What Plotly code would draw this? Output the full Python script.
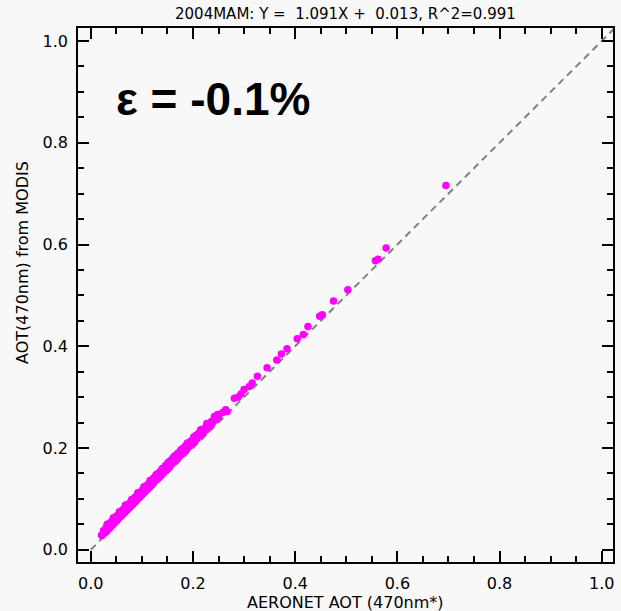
import plotly.graph_objects as go

# AERONET vs MODIS AOT (470 nm) matchups, spring 2004
aeronet_aot = [
    0.021, 0.022, 0.027, 0.031, 0.035, 0.039, 0.043, 0.047, 0.051, 0.055, 0.059,
    0.063, 0.067, 0.071, 0.075, 0.079, 0.083, 0.087, 0.091, 0.095, 0.099, 0.103,
    0.107, 0.111, 0.115, 0.119, 0.123, 0.127, 0.131, 0.135, 0.139, 0.143, 0.147,
    0.151, 0.155, 0.159, 0.163, 0.168, 0.173, 0.178, 0.183, 0.188, 0.193, 0.198,
    0.203, 0.208, 0.214, 0.220, 0.226, 0.232, 0.238, 0.244, 0.250,
    0.025, 0.030, 0.034, 0.038, 0.042, 0.046, 0.050, 0.054, 0.058, 0.062, 0.066,
    0.070, 0.074, 0.078, 0.082, 0.086, 0.090, 0.094, 0.098, 0.102, 0.106, 0.110,
    0.114, 0.118, 0.122, 0.126, 0.130, 0.134, 0.138, 0.142, 0.146, 0.150, 0.154,
    0.158, 0.162, 0.166, 0.171, 0.176, 0.181, 0.186, 0.191, 0.196, 0.201, 0.206,
    0.212, 0.218, 0.224, 0.230, 0.236, 0.242, 0.248,
    0.028, 0.033, 0.037, 0.041, 0.045, 0.049, 0.053, 0.057, 0.061, 0.065, 0.069,
    0.073, 0.077, 0.081, 0.085, 0.089, 0.093, 0.097, 0.101, 0.105, 0.109, 0.113,
    0.117, 0.121, 0.125, 0.129, 0.133, 0.137, 0.141, 0.145, 0.149, 0.153, 0.157,
    0.161, 0.165, 0.170, 0.175, 0.180, 0.185, 0.190, 0.195, 0.200, 0.205, 0.210,
    0.216, 0.222, 0.228, 0.234, 0.240,
    0.032, 0.044, 0.056, 0.068, 0.080, 0.092, 0.104, 0.116, 0.128, 0.140, 0.152,
    0.164, 0.177, 0.189, 0.202, 0.215, 0.227,
    0.258, 0.264, 0.267, 0.281, 0.288, 0.294, 0.300, 0.310, 0.316, 0.326, 0.345,
    0.364, 0.373, 0.384, 0.404, 0.416, 0.425, 0.448, 0.453, 0.475, 0.503, 0.557,
    0.562, 0.578, 0.695,
]
modis_aot = [
    0.029, 0.028, 0.033, 0.036, 0.041, 0.045, 0.049, 0.053, 0.057, 0.062, 0.066,
    0.070, 0.074, 0.078, 0.082, 0.086, 0.090, 0.094, 0.099, 0.103, 0.107, 0.111,
    0.115, 0.119, 0.123, 0.128, 0.132, 0.136, 0.140, 0.144, 0.148, 0.152, 0.156,
    0.160, 0.164, 0.169, 0.173, 0.178, 0.183, 0.188, 0.193, 0.198, 0.203, 0.208,
    0.213, 0.218, 0.224, 0.230, 0.236, 0.243, 0.249, 0.255, 0.261,
    0.038, 0.044, 0.048, 0.053, 0.057, 0.061, 0.066, 0.069, 0.073, 0.078, 0.082,
    0.086, 0.090, 0.094, 0.099, 0.103, 0.106, 0.110, 0.114, 0.119, 0.123, 0.127,
    0.131, 0.135, 0.140, 0.144, 0.148, 0.152, 0.156, 0.160, 0.165, 0.169, 0.173,
    0.177, 0.182, 0.186, 0.190, 0.195, 0.200, 0.205, 0.209, 0.214, 0.219, 0.225,
    0.230, 0.236, 0.240, 0.247, 0.252, 0.262, 0.266,
    0.038, 0.043, 0.047, 0.051, 0.055, 0.059, 0.063, 0.068, 0.072, 0.076, 0.080,
    0.084, 0.088, 0.092, 0.096, 0.100, 0.104, 0.108, 0.112, 0.117, 0.121, 0.125,
    0.129, 0.133, 0.137, 0.141, 0.146, 0.150, 0.154, 0.158, 0.162, 0.167, 0.171,
    0.175, 0.179, 0.184, 0.189, 0.194, 0.198, 0.204, 0.209, 0.214, 0.219, 0.224,
    0.230, 0.236, 0.242, 0.248, 0.254,
    0.050, 0.063, 0.075, 0.088, 0.099, 0.112, 0.124, 0.136, 0.148, 0.160, 0.172,
    0.184, 0.197, 0.210, 0.222, 0.236, 0.248,
    0.270, 0.275, 0.272, 0.298, 0.300, 0.306, 0.315, 0.321, 0.328, 0.341, 0.358,
    0.373, 0.385, 0.395, 0.415, 0.423, 0.439, 0.459, 0.462, 0.489, 0.511, 0.568,
    0.571, 0.593, 0.716,
]

one_to_one = [0.0, 1.05]
tick_vals = [0.0, 0.2, 0.4, 0.6, 0.8, 1.0]
tick_text = ["0.0", "0.2", "0.4", "0.6", "0.8", "1.0"]

title_text = "2004MAM: Y =\u00a0\u00a01.091X +\u00a0\u00a00.013, R^2=0.991"
error_text = "\u03b5 = -0.1%"

BG = "#f8f8f8"
FONT = "DejaVu Sans"

fig = go.Figure()
fig.add_trace(go.Scatter(
    x=one_to_one, y=one_to_one, mode="lines",
    line=dict(color="#808080", width=2, dash="7px,5px"),
    hoverinfo="skip", showlegend=False,
))
fig.add_trace(go.Scatter(
    x=aeronet_aot, y=modis_aot, mode="markers",
    marker=dict(color="#ff00ff", size=7.5, line=dict(width=0)),
    showlegend=False,
))

axis_common = dict(
    showgrid=False, zeroline=False,
    showline=True, linecolor="black", linewidth=1.5, mirror="ticks",
    ticks="inside", ticklen=11, tickwidth=1.5, tickcolor="black",
    tickvals=tick_vals, ticktext=tick_text,
    tickfont=dict(family=FONT, size=16, color="black"),
    minor=dict(dtick=0.05, tick0=0, ticks="inside", ticklen=6,
               tickwidth=1.5, tickcolor="black"),
)

fig.update_xaxes(range=[-0.025, 1.022], ticklabelstandoff=6, **axis_common)
fig.update_yaxes(range=[-0.024, 1.0255], ticklabelstandoff=5, **axis_common)

fig.update_layout(
    width=621, height=611,
    margin=dict(l=78, r=6, t=28, b=49),
    paper_bgcolor=BG, plot_bgcolor=BG,
    annotations=[
        dict(text=title_text, xref="paper", yref="paper", x=0.5, y=1.0,
             yshift=3, xanchor="center", yanchor="bottom", showarrow=False,
             font=dict(family=FONT, size=15, color="black")),
        dict(text="AERONET AOT (470nm*)", xref="paper", yref="paper",
             x=0.5, y=0, yshift=-40, xanchor="center", yanchor="middle",
             showarrow=False, font=dict(family=FONT, size=16, color="black")),
        dict(text="AOT(470nm) from MODIS", xref="paper", yref="paper",
             x=0, xshift=-55, y=0.56, textangle=-90, xanchor="center",
             yanchor="middle", showarrow=False,
             font=dict(family=FONT, size=16, color="black")),
        dict(text=error_text, xref="x", yref="y",
             x=0.045, y=0.885, xanchor="left", yanchor="middle",
             showarrow=False,
             font=dict(family="Liberation Sans", weight="bold", size=46,
                       color="black")),
    ],
)

fig.write_html("out.html")
